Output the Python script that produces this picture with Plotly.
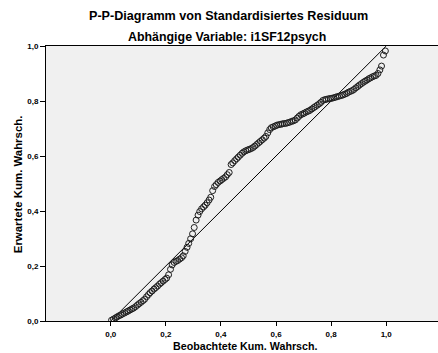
import plotly.graph_objects as go

# Observed cumulative probability (x) and expected cumulative probability (y)
observed = [
    0.003, 0.010, 0.017, 0.023, 0.030, 0.037, 0.043, 0.050, 0.057, 0.063,
    0.070, 0.077, 0.083, 0.090, 0.097, 0.103, 0.110, 0.117, 0.123, 0.130,
    0.137, 0.143, 0.150, 0.157, 0.163, 0.170, 0.177, 0.183, 0.190, 0.197,
    0.203, 0.210, 0.217, 0.223, 0.230, 0.237, 0.243, 0.250, 0.257, 0.263,
    0.270, 0.277, 0.283, 0.290, 0.297, 0.303, 0.310, 0.317, 0.323, 0.330,
    0.337, 0.343, 0.350, 0.357, 0.363, 0.370, 0.377, 0.383, 0.390, 0.397,
    0.403, 0.410, 0.417, 0.423, 0.430, 0.437, 0.443, 0.450, 0.457, 0.463,
    0.470, 0.477, 0.483, 0.490, 0.497, 0.503, 0.510, 0.517, 0.523, 0.530,
    0.537, 0.543, 0.550, 0.557, 0.563, 0.570, 0.577, 0.583, 0.590, 0.597,
    0.603, 0.610, 0.617, 0.623, 0.630, 0.637, 0.643, 0.650, 0.657, 0.663,
    0.670, 0.677, 0.683, 0.690, 0.697, 0.703, 0.710, 0.717, 0.723, 0.730,
    0.737, 0.743, 0.750, 0.757, 0.763, 0.770, 0.777, 0.783, 0.790, 0.797,
    0.803, 0.810, 0.817, 0.823, 0.830, 0.837, 0.843, 0.850, 0.857, 0.863,
    0.870, 0.877, 0.883, 0.890, 0.897, 0.903, 0.910, 0.917, 0.923, 0.930,
    0.937, 0.943, 0.950, 0.957, 0.963, 0.970, 0.977, 0.983, 0.990, 0.997,
]
expected = [
    0.003, 0.007, 0.011, 0.015, 0.019, 0.022, 0.026, 0.029, 0.033, 0.036,
    0.040, 0.044, 0.047, 0.052, 0.058, 0.063, 0.068, 0.074, 0.079, 0.088,
    0.096, 0.103, 0.109, 0.116, 0.121, 0.127, 0.134, 0.139, 0.145, 0.151,
    0.156, 0.168, 0.188, 0.204, 0.213, 0.217, 0.220, 0.225, 0.230, 0.237,
    0.253, 0.268, 0.282, 0.299, 0.317, 0.340, 0.367, 0.385, 0.398, 0.408,
    0.415, 0.421, 0.430, 0.440, 0.450, 0.474, 0.489, 0.496, 0.504, 0.509,
    0.514, 0.519, 0.524, 0.532, 0.540, 0.569, 0.575, 0.583, 0.590, 0.596,
    0.603, 0.610, 0.615, 0.619, 0.622, 0.624, 0.627, 0.631, 0.636, 0.642,
    0.648, 0.653, 0.659, 0.665, 0.671, 0.684, 0.696, 0.703, 0.706, 0.709,
    0.712, 0.714, 0.715, 0.717, 0.718, 0.719, 0.721, 0.723, 0.726, 0.728,
    0.731, 0.738, 0.744, 0.750, 0.753, 0.756, 0.760, 0.763, 0.766, 0.771,
    0.776, 0.780, 0.785, 0.790, 0.795, 0.802, 0.805, 0.806, 0.808, 0.809,
    0.810, 0.812, 0.814, 0.816, 0.818, 0.820, 0.822, 0.825, 0.828, 0.832,
    0.835, 0.838, 0.842, 0.848, 0.853, 0.858, 0.863, 0.868, 0.872, 0.876,
    0.881, 0.884, 0.888, 0.891, 0.893, 0.900, 0.913, 0.927, 0.967, 0.982,
]
diag_x = [0.0, 1.0]
diag_y = [0.0, 1.0]

tick_vals = [0.0, 0.2, 0.4, 0.6, 0.8, 1.0]
tick_text = ["0,0", "0,2", "0,4", "0,6", "0,8", "1,0"]

title = "P-P-Diagramm von Standardisiertes Residuum"
subtitle = "Abhängige Variable: i1SF12psych"
x_title = "Beobachtete Kum. Wahrsch."
y_title = "Erwartete Kum. Wahrsch."

FONT = "Liberation Sans, Arial, sans-serif"

fig = go.Figure()
fig.add_trace(go.Scatter(
    x=diag_x, y=diag_y, mode="lines",
    line=dict(color="#000000", width=1), hoverinfo="skip", showlegend=False,
))
fig.add_trace(go.Scatter(
    x=observed, y=expected, mode="markers",
    marker=dict(symbol="circle-open", size=6, color="#1e1e1e", line=dict(width=1)),
    showlegend=False,
))

bold = dict(family=FONT, color="#000000", weight="bold")

fig.update_layout(
    width=438, height=353,
    margin=dict(l=46, r=0, t=46, b=32),
    paper_bgcolor="#ffffff",
    plot_bgcolor="#f0f0f0",
    font=dict(family=FONT, color="#000000"),
    xaxis=dict(
        range=[-0.235, 1.188], tickvals=tick_vals, ticktext=tick_text,
        showgrid=False, zeroline=False, showline=True, linecolor="#000000",
        linewidth=1, mirror=True, ticks="outside", ticklen=4, tickcolor="#000000",
        tickwidth=1, tickfont=dict(size=8, **bold), ticklabelstandoff=1,
    ),
    yaxis=dict(
        range=[0.0, 1.0], tickvals=tick_vals, ticktext=tick_text,
        showgrid=False, zeroline=False, showline=True, linecolor="#000000",
        linewidth=1, ticks="outside", ticklen=5, tickcolor="#000000",
        tickwidth=1, tickfont=dict(size=8, **bold),
    ),
    annotations=[
        dict(text=title, xref="paper", yref="paper", x=0.465, y=1.109,
             xanchor="center", yanchor="middle", showarrow=False,
             font=dict(size=12.6, **bold)),
        dict(text=subtitle, xref="paper", yref="paper", x=0.463, y=1.031,
             xanchor="center", yanchor="middle", showarrow=False,
             font=dict(size=12.4, **bold)),
        dict(text=x_title, xref="paper", yref="paper", x=0.508, y=-0.091,
             xanchor="center", yanchor="middle", showarrow=False,
             font=dict(size=10.7, **bold)),
        dict(text=y_title, xref="paper", yref="paper", x=-0.071, y=0.498,
             xanchor="center", yanchor="middle", showarrow=False, textangle=-90,
             font=dict(size=11.4, **bold)),
    ],
)

fig.write_html("out.html")
